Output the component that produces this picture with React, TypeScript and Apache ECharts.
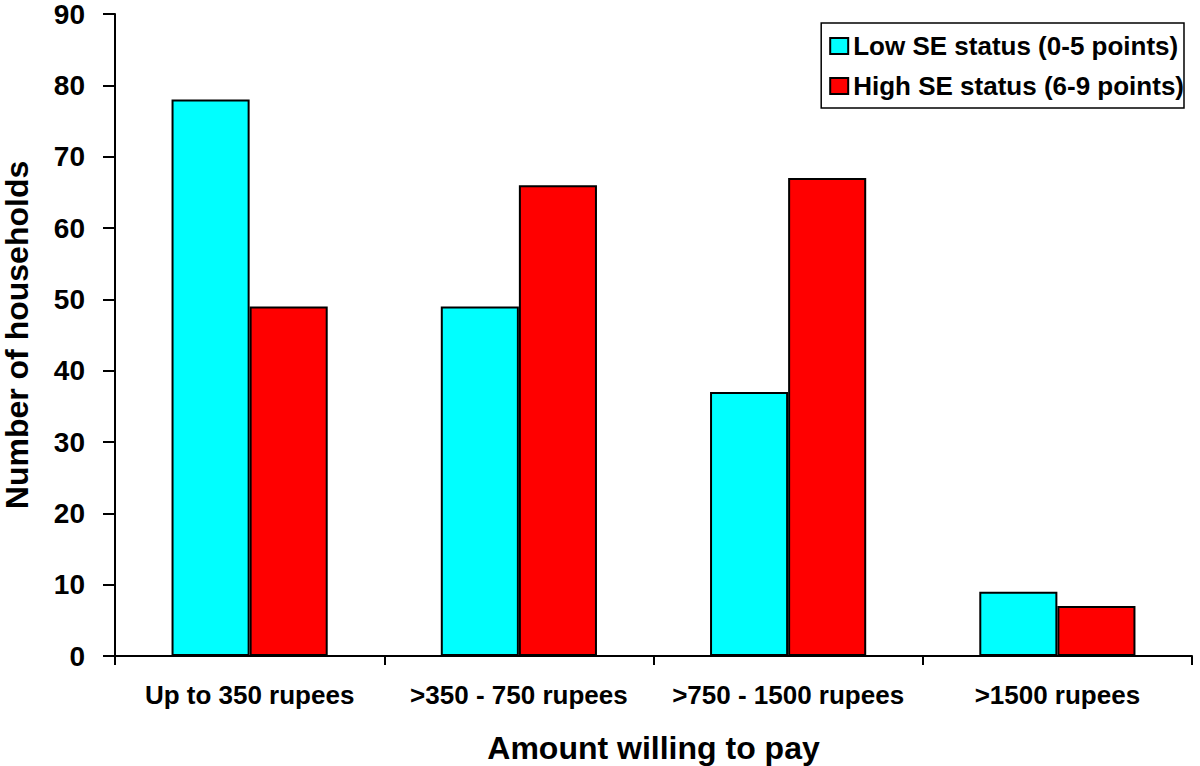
import React, { useEffect, useRef } from "react";
import * as echarts from "echarts";

const categories = ["Up to 350 rupees", ">350 - 750 rupees", ">750 - 1500 rupees", ">1500 rupees"];
const lowSE = [78, 49, 37, 9];
const highSE = [49, 66, 67, 7];
const seriesNames = ["Low SE status (0-5 points)", "High SE status (6-9 points)"];
const yTicks = { min: 0, max: 90, interval: 10 };

const FONT = "'Liberation Sans', Arial, sans-serif";

export default function App() {
  const ref = useRef<HTMLDivElement>(null);
  useEffect(() => {
    if (!ref.current) return;
    const chart = echarts.init(ref.current, null, { renderer: "svg" });
    chart.setOption({
      animation: false,
      backgroundColor: "#ffffff",
      textStyle: { fontFamily: FONT },
      grid: { left: 115, right: 8, top: 14, bottom: 110, containLabel: false, outerBoundsMode: "none" },
      legend: {
        orient: "vertical",
        right: 16,
        top: 23,
        backgroundColor: "#fff",
        borderColor: "#000",
        borderWidth: 1.5,
        borderRadius: 0,
        padding: [10, 0, 9, 8],
        itemGap: 14,
        itemWidth: 18,
        itemHeight: 16,
        icon: "rect",
        textStyle: { fontFamily: FONT, fontWeight: "bold", fontSize: 26, color: "#000" },
        data: seriesNames,
      },
      xAxis: {
        type: "category",
        data: categories,
        axisLine: { lineStyle: { color: "#000", width: 2 } },
        axisTick: { show: true, alignWithLabel: false, length: 9, lineStyle: { color: "#000", width: 2 } },
        axisLabel: { color: "#000", fontFamily: FONT, fontWeight: "bold", fontSize: 26, margin: 26, interval: 0 },
        name: "Amount willing to pay",
        nameLocation: "middle",
        nameGap: 76,
        nameTextStyle: { color: "#000", fontFamily: FONT, fontWeight: "bold", fontSize: 32 },
      },
      yAxis: {
        type: "value",
        min: yTicks.min,
        max: yTicks.max,
        interval: yTicks.interval,
        splitLine: { show: false },
        axisLine: { show: true, lineStyle: { color: "#000", width: 2 } },
        axisTick: { show: true, length: 12, lineStyle: { color: "#000", width: 2 } },
        axisLabel: { color: "#000", fontFamily: FONT, fontWeight: "bold", fontSize: 28, margin: 30 },
        name: "Number of households",
        nameLocation: "middle",
        nameGap: 82,
        nameTextStyle: { color: "#000", fontFamily: FONT, fontWeight: "bold", fontSize: 32 },
      },
      series: [
        {
          name: seriesNames[0],
          type: "bar",
          data: lowSE,
          barGap: "0%",
          barCategoryGap: "42%",
          itemStyle: { color: "#00ffff", borderColor: "#000", borderWidth: 2 },
        },
        {
          name: seriesNames[1],
          type: "bar",
          data: highSE,
          barGap: "0%",
          barCategoryGap: "42%",
          itemStyle: { color: "#ff0000", borderColor: "#000", borderWidth: 2 },
        },
      ],
    });
    return () => chart.dispose();
  }, []);
  return <div ref={ref} style={{ width: 1200, height: 766, position: "absolute", left: 0, top: 0 }} />;
}
